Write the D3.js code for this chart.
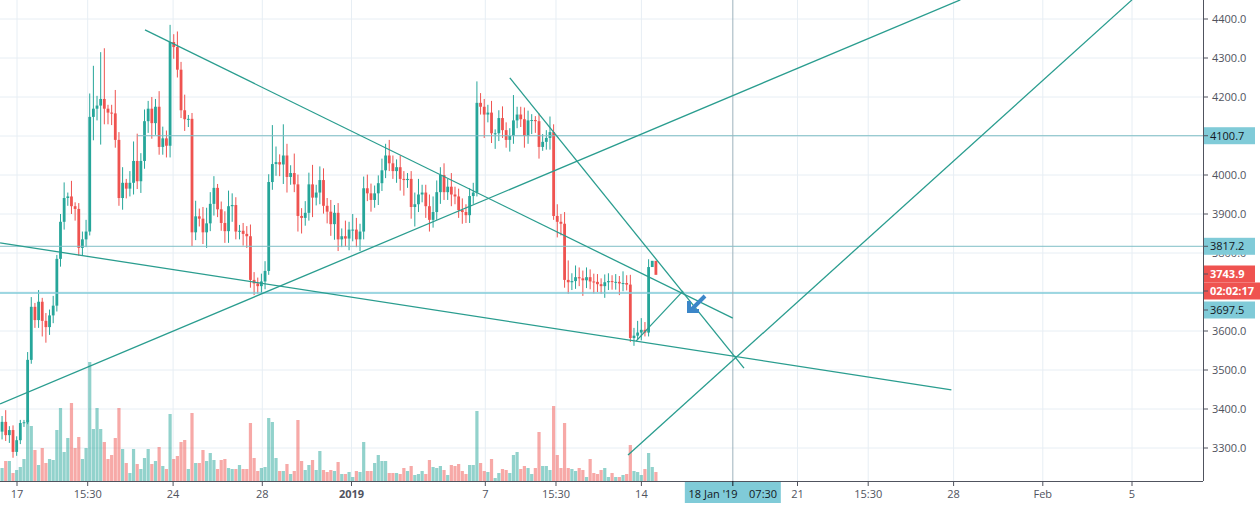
<!DOCTYPE html>
<html><head><meta charset="utf-8">
<script src="https://cdn.jsdelivr.net/npm/d3@7/dist/d3.min.js"></script>
<style>body{margin:0;background:#fff}svg{display:block;font-family:"Open Sans",Arial,sans-serif}</style>
</head><body><svg id="c" width="1260" height="506"></svg>
<script>
// closes of 4h candles (open = previous close)
const firstOpen = 3342;
const closes = [3367,3333,3346,3290,3320,3364,3366,3526,3662,3628,3675,3626,3610,3640,3665,3785,3880,
3941,3945,3920,3913,3813,3835,3855,4149,4170,4178,4195,4170,4160,4158,4090,3941,3980,3965,3980,4036,3984,4036,4138,4170,4133,4175,4072,4094,4075,4341,4328,4270,4166,4143,4144,3853,3894,3888,3853,3876,3926,3967,3912,3877,3856,3920,3923,3855,3857,3849,3843,3731,3722,3715,3727,3754,3982,4028,4033,4027,4050,3995,4005,3976,3895,3890,3903,3976,3942,3955,3987,3921,3906,3874,3903,3835,3843,3837,3860,3860,3835,3855,3966,3953,3936,3953,3979,4012,4050,4030,4010,
4020,3990,3987,3990,3918,3925,3950,3955,3920,3885,3905,3956,4000,3956,3970,3950,3945,3910,3905,3897,3946,3955,4185,4175,4155,4160,4107,4107,4146,4115,4090,4100,4140,4155,4143,4100,4140,4141,4138,4072,4085,4095,4110,3895,3880,3875,3731,3725,3728,3738,3735,3730,3738,3727,3726,3720,3715,3725,3728,3726,3726,3722,3723,3719,3582,3588,3596,3603,3596,3764,3780,3744];
const upperWick = [15,30,10,12,10,8,6,20,25,10,30,10,20,15,25,10,20,
40,10,40,10,15,20,30,60,110,25,120,130,10,20,60,20,40,10,30,50,70,20,30,20,30,20,40,30,20,44,20,40,20,40,10,15,40,20,30,40,30,30,10,20,30,40,30,20,15,20,20,30,20,15,20,25,20,100,40,20,80,30,20,50,25,20,30,30,50,20,35,30,20,30,20,25,20,40,20,40,30,20,30,35,25,20,20,30,30,40,20,
20,30,20,15,20,30,40,20,20,30,40,30,20,30,20,35,20,20,30,20,20,25,55,25,20,20,30,10,20,30,20,20,65,20,20,30,25,15,10,20,20,20,40,20,30,20,30,50,20,30,25,20,25,20,20,20,15,20,20,15,20,15,30,20,25,20,30,30,20,20];
const lowerWick = [20,15,20,15,10,10,10,5,10,20,20,40,40,20,20,15,20,
20,20,20,30,20,20,20,10,60,30,100,40,30,30,20,20,30,25,20,30,20,30,20,30,40,30,20,20,30,30,30,20,20,30,20,35,20,20,30,40,20,30,20,20,30,30,40,20,20,30,30,20,30,20,20,20,10,20,30,30,50,40,20,20,40,40,20,20,50,20,30,20,30,30,40,30,20,20,30,30,20,30,20,20,30,20,30,20,20,20,20,
30,30,40,20,30,50,20,20,30,30,20,20,30,20,20,30,20,20,30,20,20,20,10,20,60,20,25,40,20,20,20,30,20,20,20,30,20,35,30,30,10,20,30,10,40,30,20,30,20,20,20,40,20,20,30,20,20,30,20,20,20,30,20,15,10,20,10,20,10,10];
const volumes = [13,20,20,8,11,14,22,61,55,31,16,33,18,22,21,51,73,
29,43,78,33,44,22,33,119,52,73,52,39,22,26,43,73,32,18,8,32,17,12,23,32,17,20,34,15,12,67,22,25,39,41,12,68,18,18,31,20,28,21,12,21,22,13,12,12,16,12,12,58,23,10,13,14,63,59,23,10,10,17,7,10,61,20,11,16,21,11,30,11,9,11,10,19,7,7,9,4,10,9,39,10,10,18,26,20,20,8,8,
8,7,13,10,15,6,7,10,7,21,14,13,15,11,6,16,15,17,10,7,16,16,70,18,10,9,22,3,8,12,11,8,26,29,12,15,13,7,13,49,15,15,11,75,26,13,58,13,12,10,13,11,4,22,8,7,11,13,4,8,4,4,6,7,36,10,9,6,12,28,14,9];
const xTicks = [[0,"17"],[3.17,"15:30"],[7,"24"],[11,"28"],[15,"2019"],[21,"7"],[24.17,"15:30"],[28,"14"],[35,"21"],[38.17,"15:30"],[42,"28"],[46,"Feb"],[50,"5"]];
const yTicks = [3300,3400,3500,3600,3700,3800,3900,4000,4100,4200,4300,4400];
const hLines = [4100.7,3817.2,3697.5];
const trendLines = [
 [[5.74,4372],[32.1,3633]],
 [[-0.76,3826],[41.9,3449]],
 [[-0.76,3413],[42.3,4449]],
 [[22.1,4249],[32.6,3505]],
 [[27.76,3574],[29.87,3703]],
 [[27.4,3282],[50,4449]]
];
const firstDay = -0.67, stepDay = 0.1638, crossDay = 32.1;

const svg = d3.select("#c");
const W = 1203, H = 481;
const x = d3.scaleLinear().domain([0,1]).range([17,39.3]);
const y = d3.scaleLinear().domain([3300,4400]).range([448,19]);
const vy = d3.scaleLinear().domain([0,120]).range([H,H-120]);
svg.append("defs").append("clipPath").attr("id","clip").append("rect").attr("width",W).attr("height",H);
const g = svg.append("g").attr("clip-path","url(#clip)");
g.selectAll(".gy").data(yTicks).join("line").attr("x1",0).attr("x2",W).attr("y1",d=>y(d)).attr("y2",d=>y(d)).attr("stroke","#e7eef4");
g.selectAll(".gx").data(xTicks).join("line").attr("x1",d=>x(d[0])).attr("x2",d=>x(d[0])).attr("y1",0).attr("y2",H).attr("stroke","#e7eef4");
const data = closes.map((c,i)=>{const o=i?closes[i-1]:firstOpen;return {o,c,h:Math.max(o,c)+upperWick[i],l:Math.min(o,c)-lowerWick[i],v:volumes[i],t:firstDay+i*stepDay};});
const G="#26a69a", R="#ef5350";
g.selectAll(".vol").data(data).join("rect").attr("x",d=>x(d.t)-1.6).attr("width",3.2).attr("y",d=>vy(d.v)).attr("height",d=>H-vy(d.v))
 .attr("fill",d=>d.c>=d.o?G:R).attr("opacity",0.5);
g.selectAll(".wick").data(data).join("line").attr("x1",d=>x(d.t)).attr("x2",d=>x(d.t)).attr("y1",d=>y(d.h)).attr("y2",d=>y(d.l)).attr("stroke",d=>d.c>=d.o?G:R).attr("stroke-width",1);
g.selectAll(".body").data(data).join("rect").attr("x",d=>x(d.t)-1.4).attr("width",2.8)
 .attr("y",d=>y(Math.max(d.o,d.c))).attr("height",d=>Math.max(1,Math.abs(y(d.o)-y(d.c)))).attr("fill",d=>d.c>=d.o?G:R);
g.append("line").attr("x1",x(5.4)).attr("x2",W).attr("y1",y(hLines[0])).attr("y2",y(hLines[0])).attr("stroke","#7fbfc6");
g.append("line").attr("x1",0).attr("x2",W).attr("y1",y(hLines[1])).attr("y2",y(hLines[1])).attr("stroke","#7fbfc6");
g.append("line").attr("x1",0).attr("x2",W).attr("y1",y(hLines[2])).attr("y2",y(hLines[2])).attr("stroke","#80cbd8").attr("stroke-width",1.5);
g.append("line").attr("x1",x(crossDay)).attr("x2",x(crossDay)).attr("y1",0).attr("y2",H).attr("stroke","#9db2bd");
g.selectAll(".tl").data(trendLines).join("line").attr("x1",d=>x(d[0][0])).attr("y1",d=>y(d[0][1])).attr("x2",d=>x(d[1][0])).attr("y2",d=>y(d[1][1]))
 .attr("stroke","#2a9d8f").attr("stroke-width",1.3);
g.append("path").attr("d","M705,296 L691,310 M689,301 L689,311 L699,311").attr("stroke","#3b86c8").attr("stroke-width",4).attr("fill","none");
svg.append("line").attr("x1",W+0.5).attr("x2",W+0.5).attr("y1",0).attr("y2",H).attr("stroke","#50535e");
svg.append("line").attr("x1",0).attr("x2",W).attr("y1",H+0.5).attr("y2",H+0.5).attr("stroke","#50535e");
const ax = svg.append("g");
yTicks.forEach(d=>{
 ax.append("line").attr("x1",W).attr("x2",W+5).attr("y1",y(d)).attr("y2",y(d)).attr("stroke","#50535e");
 ax.append("text").attr("x",1212).attr("y",y(d)+4).attr("font-size",11).attr("fill","#50535e").text(d.toFixed(1));
});
xTicks.forEach(d=>{
 ax.append("line").attr("x1",x(d[0])).attr("x2",x(d[0])).attr("y1",H).attr("y2",H+5).attr("stroke","#50535e");
 ax.append("text").attr("x",x(d[0])).attr("y",498).attr("text-anchor","middle").attr("font-size",11).attr("fill","#50535e")
  .attr("font-weight",d[1]==="2019"?"bold":"normal").text(d[1]);
});
function tag(cy,txt,bg,fg,w){
 ax.append("rect").attr("x",W+1).attr("y",cy-8.5).attr("width",w||51).attr("height",17).attr("fill",bg);
 ax.append("line").attr("x1",W).attr("x2",W+5).attr("y1",cy).attr("y2",cy).attr("stroke","#50535e");
 ax.append("text").attr("x",1210).attr("y",cy+4).attr("font-size",11).attr("fill",fg).attr("font-weight",fg==="#fff"?"bold":"normal").text(txt);
}
tag(y(hLines[0]),"4100.7","#80cbd8","#131722");
tag(y(hLines[1]),"3817.2","#80cbd8","#131722");
tag(274,"3743.9","#ef5350","#fff");
tag(310,"3697.5","#80cbd8","#131722");
tag(291,"02:02:17","#ef5350","#fff",57);
ax.append("rect").attr("x",x(crossDay)-48).attr("y",H+1).attr("width",96).attr("height",21).attr("fill","#80cbd8");
ax.append("line").attr("x1",x(crossDay)).attr("x2",x(crossDay)).attr("y1",H).attr("y2",H+5).attr("stroke","#131722");
ax.append("text").attr("x",x(crossDay)).attr("y",498).attr("text-anchor","middle").attr("font-size",11).attr("fill","#131722").attr("xml:space","preserve").text("18 Jan '19    07:30");
</script></body></html>
